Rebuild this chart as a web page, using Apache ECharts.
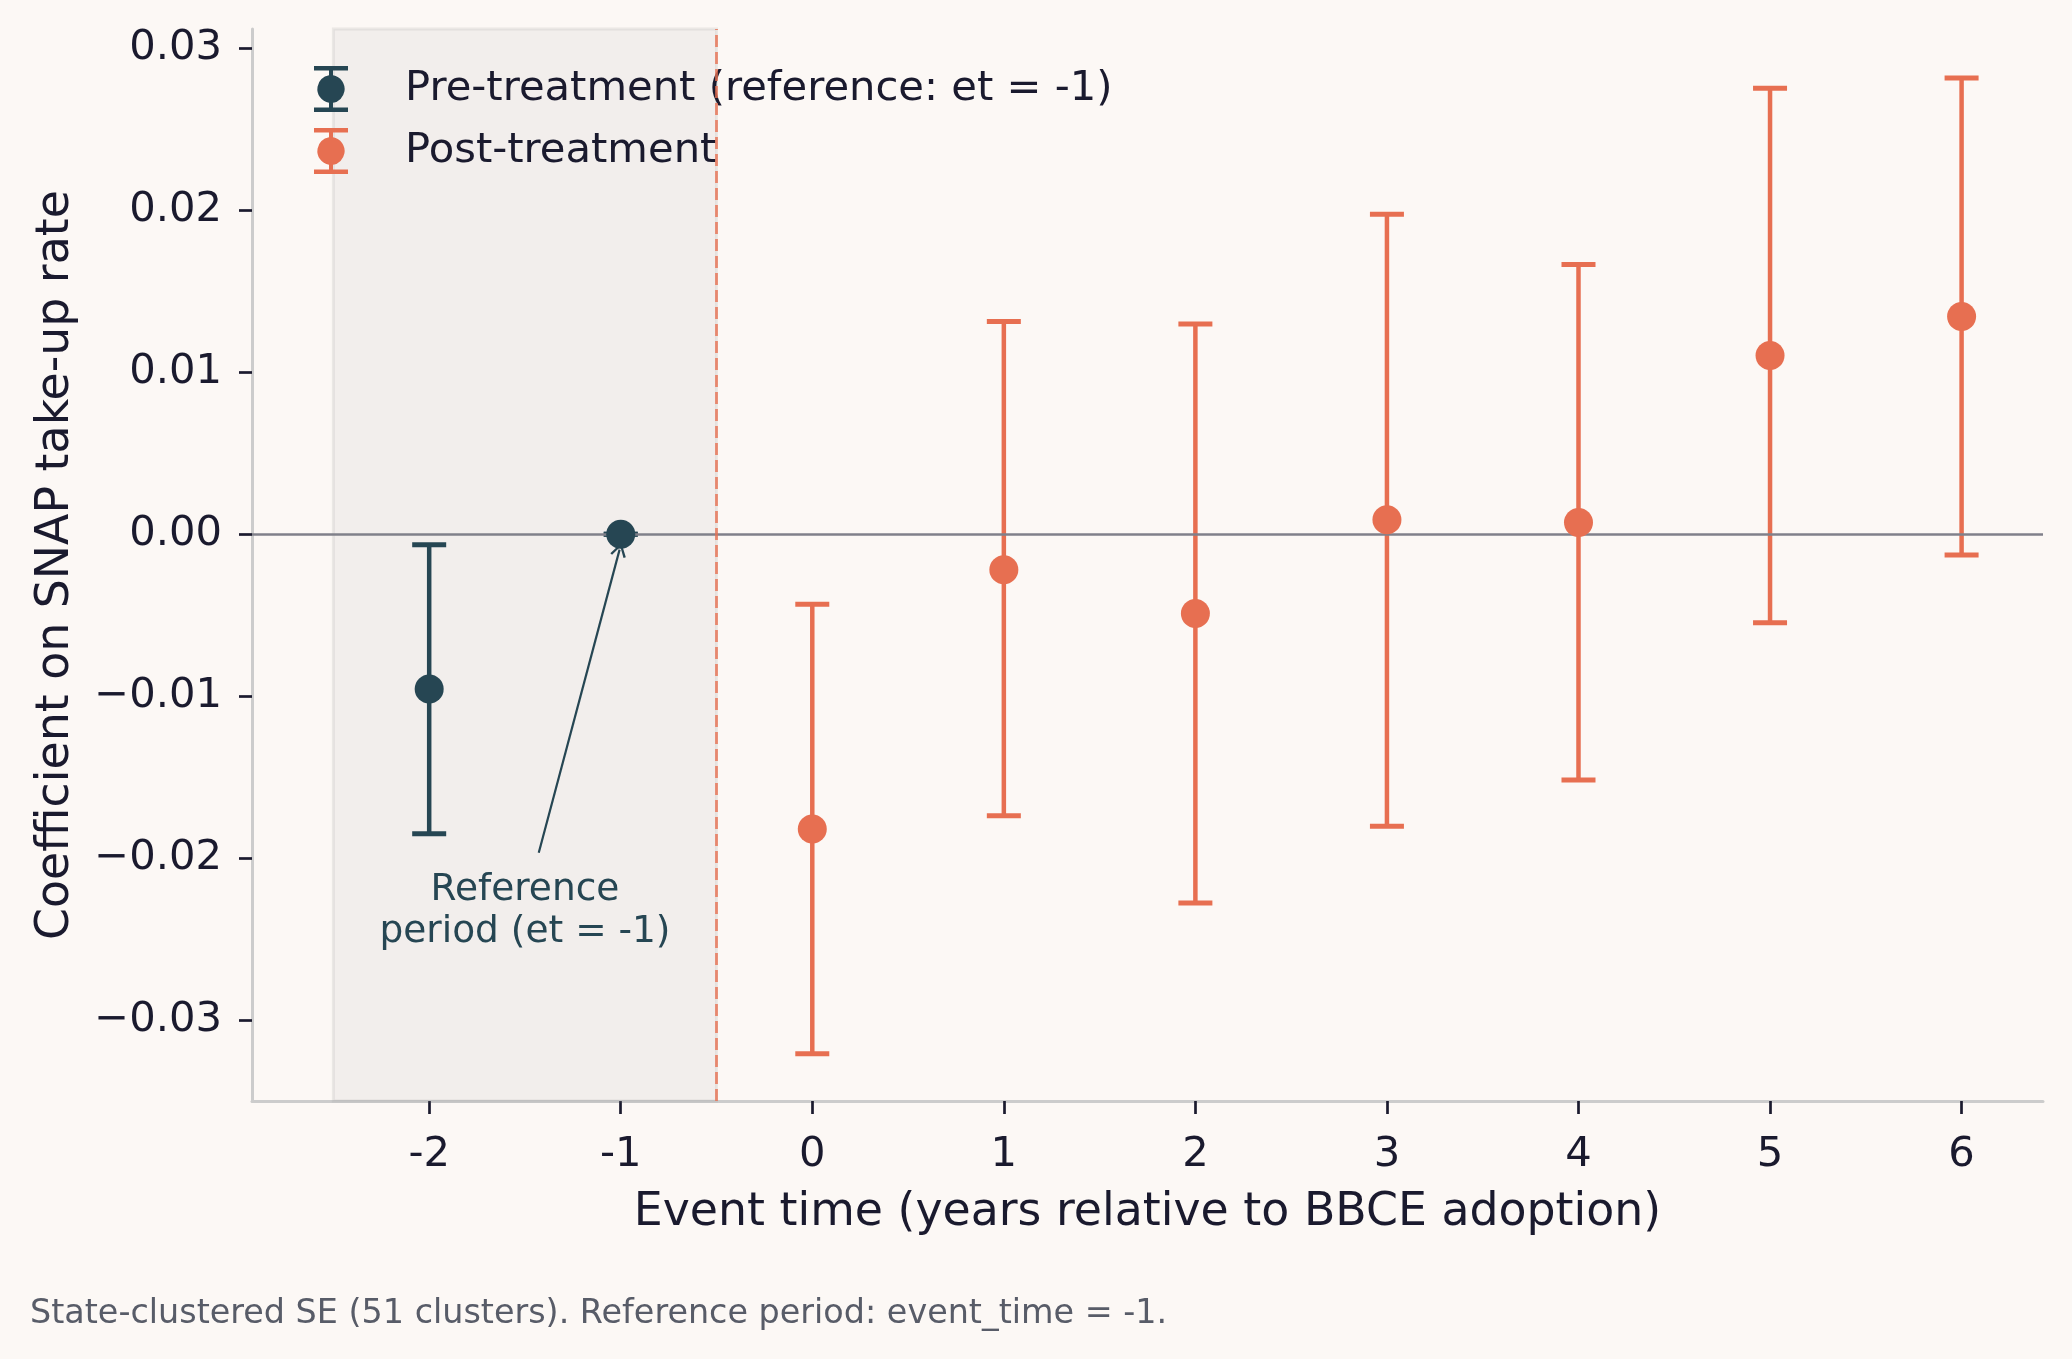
<!DOCTYPE html>
<html>
<head>
<meta charset="utf-8">
<script src="https://cdn.jsdelivr.net/npm/echarts@6/dist/echarts.min.js"></script>
<style>
html,body{margin:0;padding:0;background:#FCF8F5;}
#chart{width:2072px;height:1359px;}
</style>
</head>
<body>
<div id="chart"></div>
<script>
// ---- data ----
const preX = [-2, -1];
const preCoef = [-0.00955, 0];
const preLo = [-0.0185, 0];
const preHi = [-0.00065, 0];

const postX = [0, 1, 2, 3, 4, 5, 6];
const postCoef = [-0.0182, -0.0022, -0.0049, 0.0009, 0.00073, 0.01104, 0.01344];
const postLo = [-0.03208, -0.01739, -0.02278, -0.01804, -0.01518, -0.00547, -0.00128];
const postHi = [-0.00433, 0.01314, 0.01298, 0.01976, 0.01665, 0.02754, 0.02818];

const xTicks = [-2, -1, 0, 1, 2, 3, 4, 5, 6];
const yTicks = [-0.03, -0.02, -0.01, 0, 0.01, 0.02, 0.03];

const shadeFrom = -2.5, shadeTo = -0.5;
const treatLineX = -0.5;
const refLineY = 0;

const annotText = 'Reference\nperiod (et = -1)';
const annotTextPos = [-1.5, -0.0207];
const annotArrowFrom = [-1.428, -0.01967];
const annotArrowTo = [-1.006, -0.00095];

const legendNames = ['Pre-treatment (reference: et = -1)', 'Post-treatment'];
const footnote = 'State-clustered SE (51 clusters). Reference period: event_time = -1.';

// ---- style ----
const NAVY = '#264653';
const ORANGE = '#E76F51';
const TEXT = '#1a1a2e';
const FONT = 'DejaVu Sans';

const errIcon = 'path://M0,0 L34,0 L34,4.5 L19,4.5 L19,9.2 A14,14 0 0 1 19,36.8 L19,41.5 L34,41.5 L34,46 L0,46 L0,41.5 L15,41.5 L15,36.8 A14,14 0 0 1 15,9.2 L15,4.5 L0,4.5 Z';
const arrowHead = 'path://M5,0 L10,9 L8.7,9.8 L5,2.8 L1.3,9.8 L0,9 Z';

function errData(xs, lo, hi) {
  return xs.map((x, i) => [x, lo[i], hi[i]]);
}
function renderErr(color) {
  return function (params, api) {
    const x = api.value(0), lo = api.value(1), hi = api.value(2);
    const pLo = api.coord([x, lo]);
    const pHi = api.coord([x, hi]);
    const hw = 17;
    const st = { stroke: color, lineWidth: 4.5 };
    const cst = { stroke: color, lineWidth: 5 };
    const children = [
      { type: 'line', shape: { x1: pHi[0] - hw, y1: pHi[1], x2: pHi[0] + hw, y2: pHi[1] }, style: cst },
      { type: 'line', shape: { x1: pLo[0] - hw, y1: pLo[1], x2: pLo[0] + hw, y2: pLo[1] }, style: cst }
    ];
    if (lo !== hi) {
      children.unshift({ type: 'line', shape: { x1: pLo[0], y1: pLo[1], x2: pHi[0], y2: pHi[1] }, style: st });
    }
    return { type: 'group', children: children };
  };
}

const chart = echarts.init(document.getElementById('chart'), null, { renderer: 'canvas' });

const option = {
  backgroundColor: '#FCF8F5',
  animation: false,
  textStyle: { fontFamily: FONT },
  title: {
    text: footnote,
    left: 30, top: 1298, padding: 0,
    textStyle: { fontFamily: FONT, fontSize: 33.4, fontWeight: 'normal', color: '#585c68' }
  },
  legend: {
    left: 314, top: 66, orient: 'vertical',
    itemWidth: 34, itemHeight: 46, itemGap: 16, padding: 0,
    data: [
      { name: legendNames[0], icon: errIcon },
      { name: legendNames[1], icon: errIcon }
    ],
    textStyle: { fontFamily: FONT, fontSize: 41.7, color: TEXT, padding: [0, 0, 0, 52] }
  },
  grid: { left: 252, top: 29, right: 29, bottom: 258, containLabel: false },
  xAxis: {
    type: 'value', min: -2.925, max: 6.425,
    name: 'Event time (years relative to BBCE adoption)',
    nameLocation: 'middle', nameGap: 89,
    nameTextStyle: { fontFamily: FONT, fontSize: 45.8, color: TEXT },
    axisLine: { onZero: false, lineStyle: { color: '#cccccc', width: 3 } },
    axisTick: { show: true, length: 13, lineStyle: { color: TEXT, width: 2.7 }, customValues: xTicks },
    axisLabel: { fontFamily: FONT, fontSize: 41.7, color: TEXT, margin: 33, customValues: xTicks,
      formatter: v => String(v) },
    splitLine: { show: false }
  },
  yAxis: {
    type: 'value', min: -0.0350, max: 0.0312,
    name: 'Coefficient on SNAP take-up rate',
    nameLocation: 'middle', nameGap: 173,
    nameTextStyle: { fontFamily: FONT, fontSize: 45.8, color: TEXT },
    axisLine: { show: true, onZero: false, lineStyle: { color: '#cccccc', width: 3 } },
    axisTick: { show: true, length: 13, lineStyle: { color: TEXT, width: 2.7 }, customValues: yTicks },
    axisLabel: { fontFamily: FONT, fontSize: 41.7, color: TEXT, margin: 30, customValues: yTicks,
      formatter: v => (v < 0 ? '\u2212' + Math.abs(v).toFixed(2) : v.toFixed(2)) },
    splitLine: { show: false }
  },
  series: [
    {
      name: 'guides', type: 'scatter', data: [], z: 1, silent: true,
      markArea: {
        silent: true,
        itemStyle: { color: 'rgba(160,160,160,0.10)', borderColor: 'rgba(160,160,160,0.18)', borderWidth: 3 },
        data: [[{ xAxis: shadeFrom }, { xAxis: shadeTo }]]
      },
      markLine: {
        silent: true, symbol: 'none', label: { show: false },
        data: [
          { yAxis: refLineY, lineStyle: { color: '#80808a', width: 2.5, type: 'solid' } },
          { xAxis: treatLineX, lineStyle: { color: 'rgba(231,111,81,0.8)', width: 2.8, type: [12, 5] } }
        ]
      }
    },
    {
      name: 'preErr', type: 'custom', z: 3, silent: true,
      renderItem: renderErr(NAVY), data: errData(preX, preLo, preHi)
    },
    {
      name: 'postErr', type: 'custom', z: 3, silent: true,
      renderItem: renderErr(ORANGE), data: errData(postX, postLo, postHi)
    },
    {
      name: legendNames[0], type: 'scatter', z: 5, symbol: 'circle', symbolSize: 29,
      itemStyle: { color: NAVY, opacity: 1 },
      data: preX.map((x, i) => [x, preCoef[i]]),
      markLine: {
        silent: true, symbol: ['none', arrowHead], symbolSize: [16, 14],
        label: { show: false },
        lineStyle: { color: NAVY, width: 2.2, type: 'solid' },
        data: [[{ coord: annotArrowFrom }, { coord: annotArrowTo }]]
      }
    },
    {
      name: legendNames[1], type: 'scatter', z: 5, symbol: 'circle', symbolSize: 29,
      itemStyle: { color: ORANGE, opacity: 1 },
      data: postX.map((x, i) => [x, postCoef[i]])
    }
  ]
};
chart.setOption(option);

const tp = chart.convertToPixel({ gridIndex: 0 }, annotTextPos);
chart.setOption({
  graphic: [{
    type: 'text', x: tp[0], y: tp[1], z: 10,
    style: {
      text: annotText, fill: NAVY, font: '37.5px "DejaVu Sans"',
      align: 'center', verticalAlign: 'top', lineHeight: 42
    }
  }]
});
</script>
</body>
</html>
